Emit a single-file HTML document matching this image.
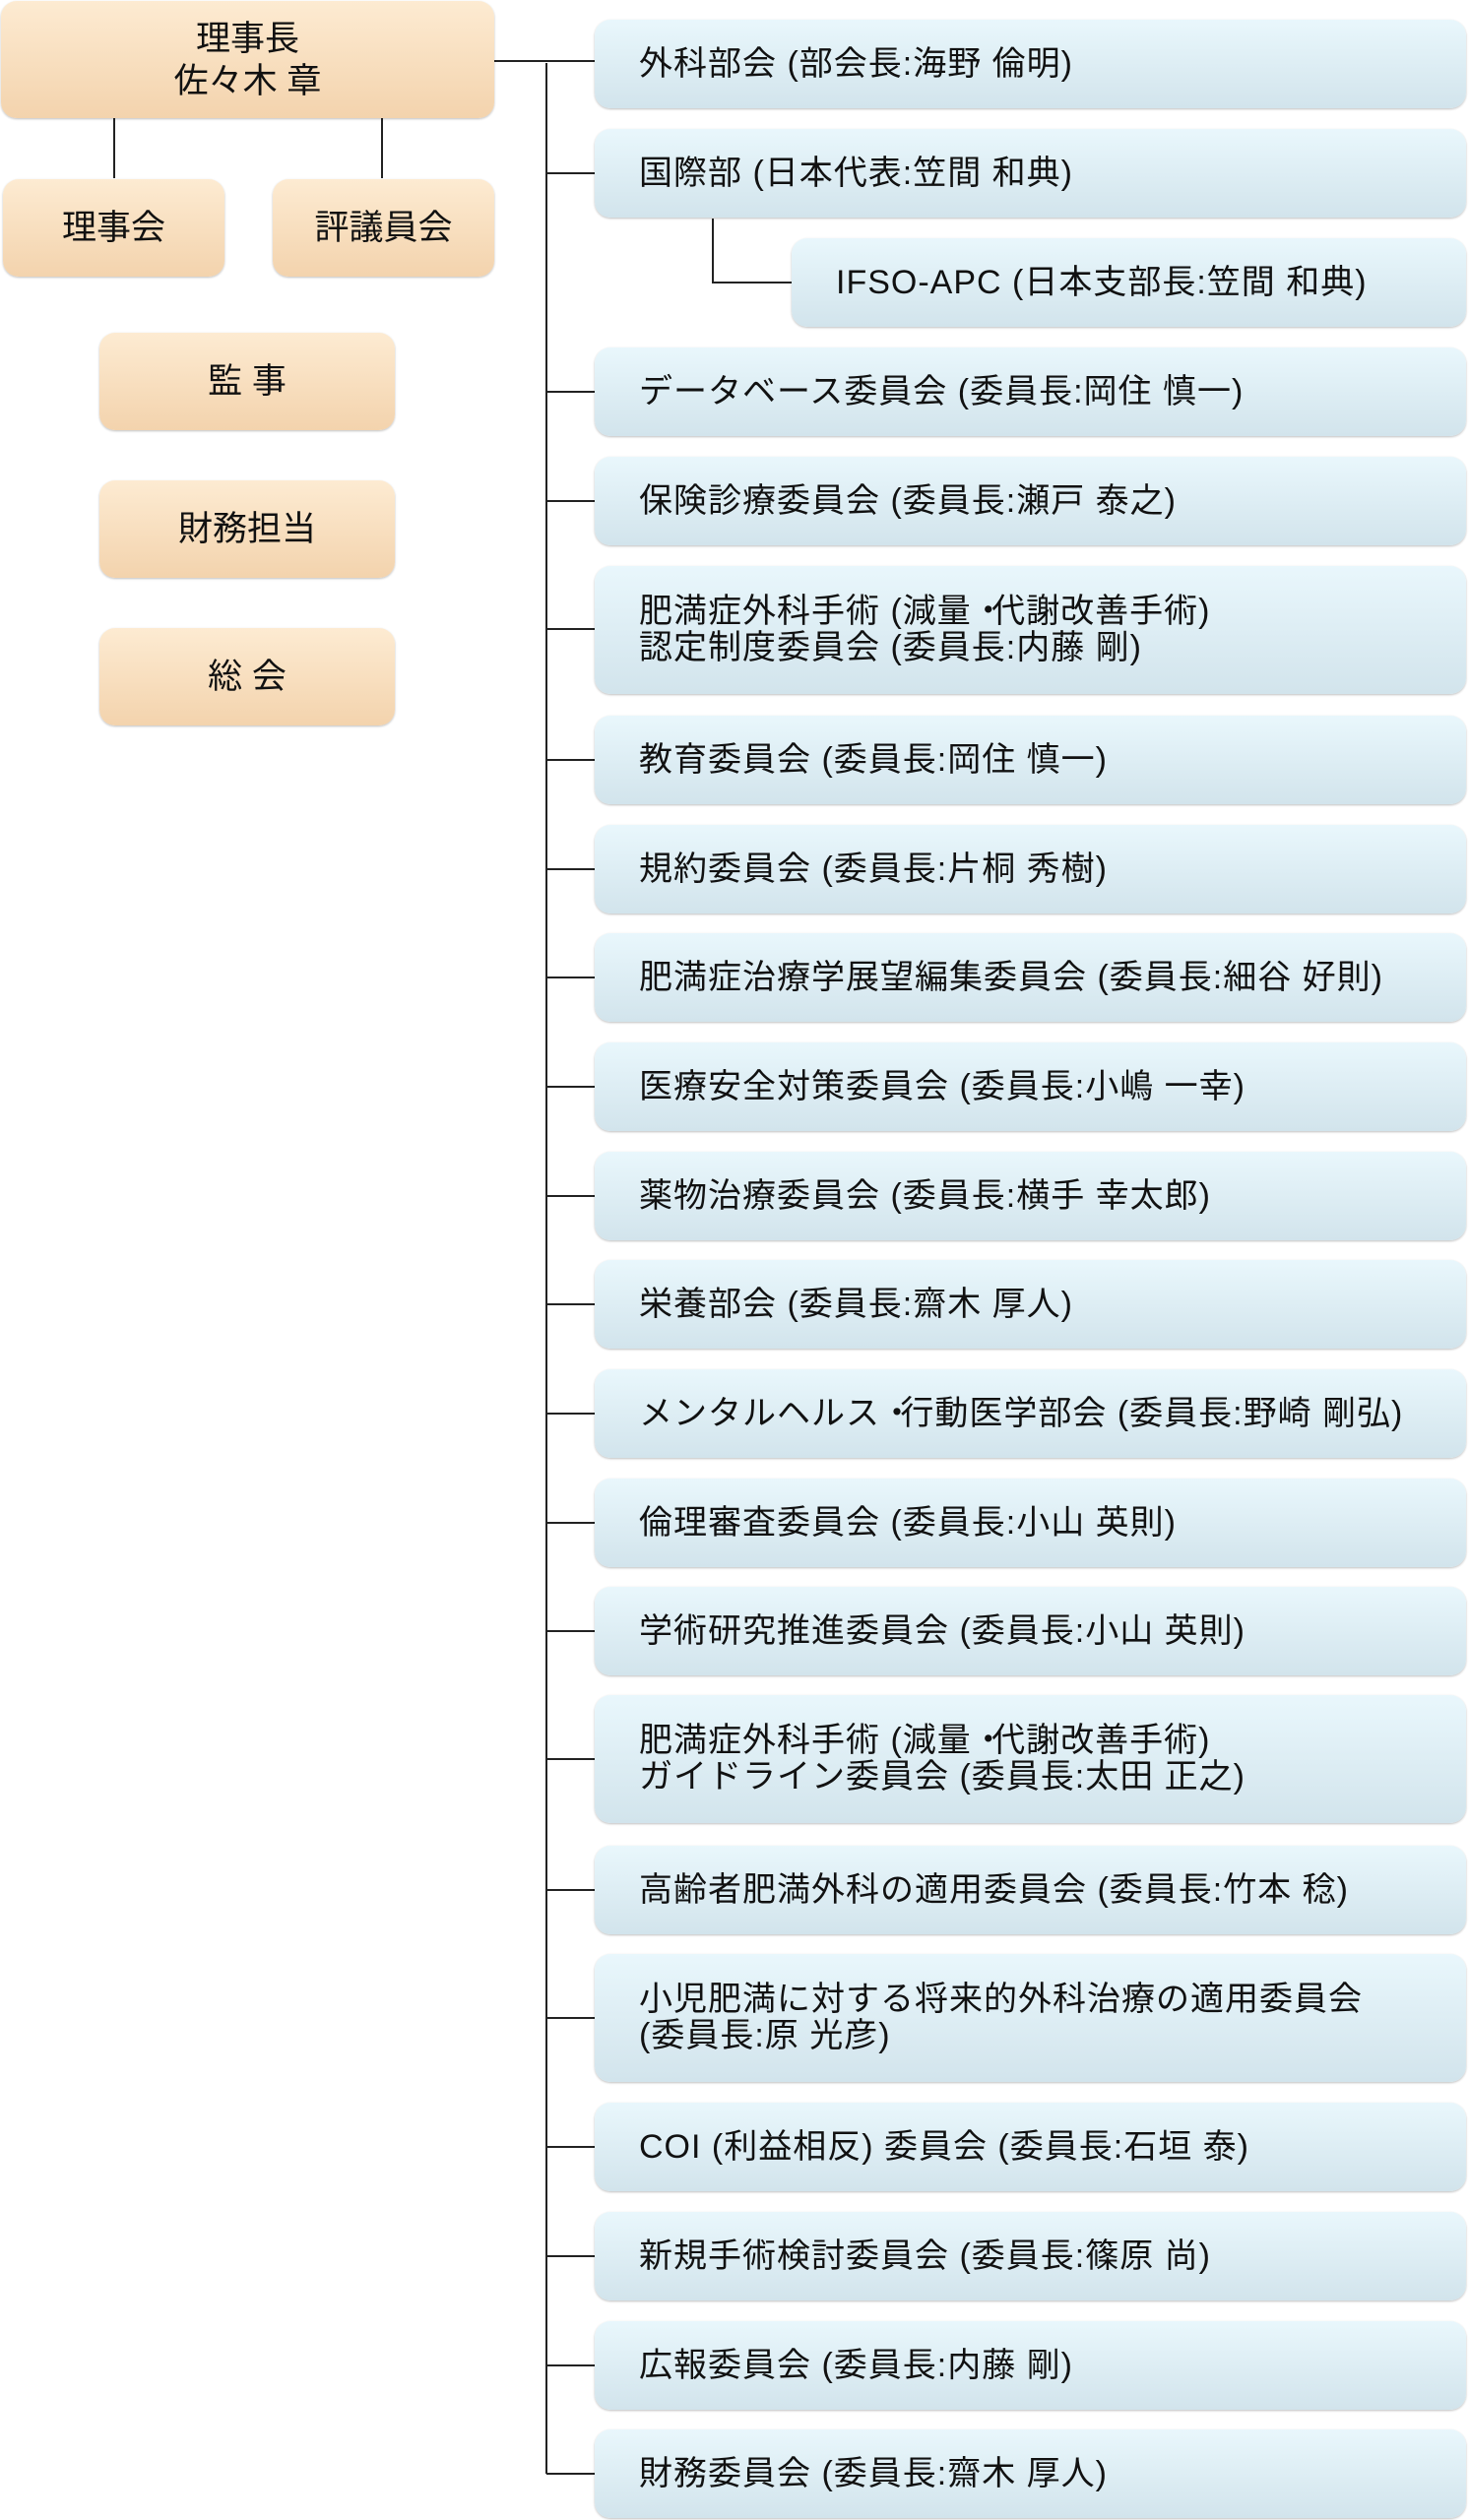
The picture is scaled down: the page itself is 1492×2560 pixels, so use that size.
<!DOCTYPE html>
<html><head><meta charset="utf-8">
<style>
body{margin:0;width:1492px;height:2560px;background:#fff;position:relative;overflow:hidden;font-family:"Liberation Sans","Noto Sans CJK JP",sans-serif;color:#111}
.o{position:absolute;border-radius:16px;background:linear-gradient(#fdebd2,#f3d3ad);box-shadow:0 1px 2px rgba(0,0,0,.25);display:flex;align-items:center;justify-content:center;text-align:center;font-size:35px;line-height:43px}
.b{position:absolute;left:604px;width:885px;border-radius:16px;background:linear-gradient(#e9f7fc,#d2e4ec);box-shadow:0 1px 2px rgba(0,0,0,.25);display:flex;align-items:center;padding-left:45px;box-sizing:border-box;font-size:34px;line-height:37px;height:90px;white-space:nowrap;letter-spacing:1px}
.t{height:130px}
.d{display:inline-block;width:0.6em;text-align:center}
svg{position:absolute;left:0;top:0}
</style></head><body>
<svg width="1492" height="2560"><g stroke="#222" stroke-width="2" fill="none">
<line x1="502" y1="62" x2="604" y2="62"/>
<line x1="555" y1="64" x2="555" y2="2513"/>
<line x1="116" y1="120" x2="116" y2="181"/>
<line x1="388" y1="120" x2="388" y2="181"/>
<polyline points="724,222 724,287 804,287"/>
<line x1="555" y1="176" x2="604" y2="176"/>
<line x1="555" y1="398" x2="604" y2="398"/>
<line x1="555" y1="509" x2="604" y2="509"/>
<line x1="555" y1="639" x2="604" y2="639"/>
<line x1="555" y1="772" x2="604" y2="772"/>
<line x1="555" y1="883" x2="604" y2="883"/>
<line x1="555" y1="993" x2="604" y2="993"/>
<line x1="555" y1="1104" x2="604" y2="1104"/>
<line x1="555" y1="1215" x2="604" y2="1215"/>
<line x1="555" y1="1325" x2="604" y2="1325"/>
<line x1="555" y1="1436" x2="604" y2="1436"/>
<line x1="555" y1="1547" x2="604" y2="1547"/>
<line x1="555" y1="1657" x2="604" y2="1657"/>
<line x1="555" y1="1787" x2="604" y2="1787"/>
<line x1="555" y1="1920" x2="604" y2="1920"/>
<line x1="555" y1="2050" x2="604" y2="2050"/>
<line x1="555" y1="2181" x2="604" y2="2181"/>
<line x1="555" y1="2292" x2="604" y2="2292"/>
<line x1="555" y1="2403" x2="604" y2="2403"/>
<line x1="555" y1="2513" x2="604" y2="2513"/>
</g></svg>
<div class="o" style="left:1px;top:1px;width:501px;height:119px"><div>理事長<br>佐々木 章</div></div>
<div class="o" style="left:3px;top:182px;width:225px;height:99px"><div>理事会</div></div>
<div class="o" style="left:277px;top:182px;width:225px;height:99px"><div>評議員会</div></div>
<div class="o" style="left:101px;top:338px;width:300px;height:99px"><div>監 事</div></div>
<div class="o" style="left:101px;top:488px;width:300px;height:99px"><div>財務担当</div></div>
<div class="o" style="left:101px;top:638px;width:300px;height:99px"><div>総 会</div></div>

<div class="b" style="top:20px"><div>外科部会 (部会長:海野 倫明)</div></div>
<div class="b" style="top:131px"><div>国際部 (日本代表:笠間 和典)</div></div>
<div class="b" style="top:242px;left:804px;width:685px"><div>IFSO-APC (日本支部長:笠間 和典)</div></div>
<div class="b" style="top:353px"><div>データベース委員会 (委員長:岡住 慎一)</div></div>
<div class="b" style="top:464px"><div>保険診療委員会 (委員長:瀬戸 泰之)</div></div>
<div class="b t" style="top:575px"><div>肥満症外科手術 (減量<span class="d">・</span>代謝改善手術)<br>認定制度委員会 (委員長:内藤 剛)</div></div>
<div class="b" style="top:727px"><div>教育委員会 (委員長:岡住 慎一)</div></div>
<div class="b" style="top:838px"><div>規約委員会 (委員長:片桐 秀樹)</div></div>
<div class="b" style="top:948px"><div>肥満症治療学展望編集委員会 (委員長:細谷 好則)</div></div>
<div class="b" style="top:1059px"><div>医療安全対策委員会 (委員長:小嶋 一幸)</div></div>
<div class="b" style="top:1170px"><div>薬物治療委員会 (委員長:横手 幸太郎)</div></div>
<div class="b" style="top:1280px"><div>栄養部会 (委員長:齋木 厚人)</div></div>
<div class="b" style="top:1391px"><div>メンタルヘルス<span class="d">・</span>行動医学部会 (委員長:野崎 剛弘)</div></div>
<div class="b" style="top:1502px"><div>倫理審査委員会 (委員長:小山 英則)</div></div>
<div class="b" style="top:1612px"><div>学術研究推進委員会 (委員長:小山 英則)</div></div>
<div class="b t" style="top:1722px"><div>肥満症外科手術 (減量<span class="d">・</span>代謝改善手術)<br>ガイドライン委員会 (委員長:太田 正之)</div></div>
<div class="b" style="top:1875px"><div>高齢者肥満外科の適用委員会 (委員長:竹本 稔)</div></div>
<div class="b t" style="top:1985px"><div>小児肥満に対する将来的外科治療の適用委員会<br>(委員長:原 光彦)</div></div>
<div class="b" style="top:2136px"><div>COI (利益相反) 委員会 (委員長:石垣 泰)</div></div>
<div class="b" style="top:2247px"><div>新規手術検討委員会 (委員長:篠原 尚)</div></div>
<div class="b" style="top:2358px"><div>広報委員会 (委員長:内藤 剛)</div></div>
<div class="b" style="top:2468px"><div>財務委員会 (委員長:齋木 厚人)</div></div>
</body></html>
